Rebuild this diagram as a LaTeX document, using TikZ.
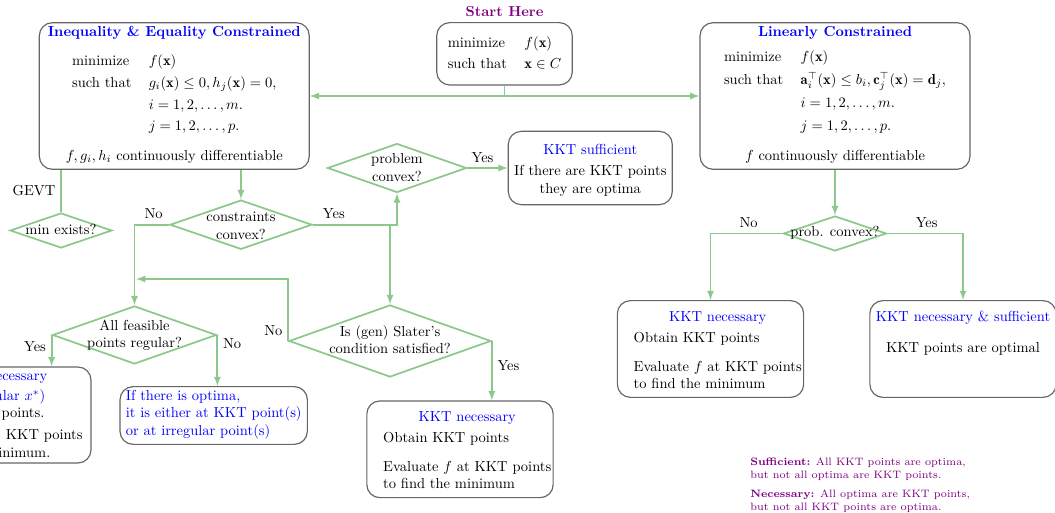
\documentclass[tikz,border=0pt]{standalone}
\usepackage{fontspec}
\usetikzlibrary{arrows,shapes.geometric}

\definecolor{flowgreen}{RGB}{140,200,140}
% put text in a node without giving it any size: shift right, raise
\newcommand{\boxin}[3]{\makebox[0pt]{\hspace*{#1}\hspace*{#1}\raisebox{#2}[0pt][0pt]{#3}}}

\tikzset{
  box/.style={draw=black!60, thick, rounded corners=9pt, inner sep=0pt},
  decision/.style={diamond, draw=flowgreen, very thick, inner sep=0pt},
  line/.style={draw=flowgreen, very thick},
  arr/.style={line, ->, >=latex},
  note/.style={align=left, font=\fontsize{7.4pt}{9pt}\selectfont, text=violet, inner sep=0pt}
}

\begin{document}
\begin{tikzpicture}[x=0.6897pt, y=-0.6897pt]
\useasboundingbox (0,0) rectangle (1055,513);

% problems
\node[box, minimum width=186.2pt, minimum height=101.1pt] (ineq) at (174.3,96) {\boxin{0pt}{41pt}{\begin{tabular}[t]{ll}
  \multicolumn{2}{c}{\makebox[0pt]{\bfseries\color{blue}Inequality \& Equality Constrained}}\\[8pt]
  minimize & $f(\mathbf{x})$\\[3pt]
  such that & $g_i(\mathbf{x})\le 0, h_j(\mathbf{x})=0,$\\[3pt]
  & $i=1,2,\ldots,m.$\\[3pt]
  & $j=1,2,\ldots,p.$\\[8.7pt]
  \multicolumn{2}{c}{\makebox[0pt]{$f,g_i,h_i$ continuously differentiable}}
\end{tabular}}};
\node[box, minimum width=93.5pt, minimum height=43pt,
  label={[text=violet, font=\bfseries]above:Start Here}] (start) at (504.5,53.8) {\boxin{0pt}{4.3pt}{\begin{tabular}[t]{ll}
  minimize & $f(\mathbf{x})$\\[2.5pt]
  such that & $\mathbf{x}\in C$
\end{tabular}}};
\node[box, minimum width=186.2pt, minimum height=101.1pt] (lincon) at (835,96) {\boxin{0pt}{41pt}{\begin{tabular}[t]{ll}
  \multicolumn{2}{c}{\makebox[0pt]{\bfseries\color{blue}Linearly Constrained}}\\[5.2pt]
  minimize & $f(\mathbf{x})$\\[3.9pt]
  such that & $\mathbf{a}_i^\top(\mathbf{x})\le b_i, \mathbf{c}_j^\top(\mathbf{x})=\mathbf{d}_j,$\\[3.9pt]
  & $i=1,2,\ldots,m.$\\[3.9pt]
  & $j=1,2,\ldots,p.$\\[8.7pt]
  \multicolumn{2}{c}{\makebox[0pt]{$f$ continuously differentiable}}
\end{tabular}}};

% questions
\node[decision, minimum width=95.9pt, minimum height=33.8pt] (probcvx) at (397,168) {\boxin{0pt}{3pt}{\begin{tabular}[t]{@{}c@{}}problem\\convex?\end{tabular}}};
\node[decision, minimum width=97.9pt, minimum height=34pt] (concvx) at (241,224.7) {\boxin{0pt}{2pt}{\begin{tabular}[t]{@{}c@{}}constraints\\convex?\end{tabular}}};
\node[decision, minimum width=70.3pt, minimum height=24.1pt] (minex) at (61,230.5) {\boxin{0pt}{-2.8pt}{min exists?}};
\node[decision, minimum width=113.1pt, minimum height=40pt] (regular) at (134.5,335) {\boxin{0pt}{3.4pt}{\begin{tabular}[t]{@{}c@{}}All feasible\\points regular?\end{tabular}}};
\node[decision, minimum width=139.3pt, minimum height=49.7pt] (slater) at (390,341) {\boxin{0pt}{3.2pt}{\begin{tabular}[t]{@{}c@{}}Is (gen) Slater's\\condition satisfied?\end{tabular}}};
\node[decision, minimum width=71pt, minimum height=24.1pt] (lincvx) at (835,233.5) {\boxin{0pt}{-2.1pt}{prob. convex?}};

% answers
\node[box, minimum width=113.1pt, minimum height=50.6pt] (kktsuff) at (590.3,168) {\boxin{0pt}{9.2pt}{\begin{tabular}[t]{@{}c@{}}
  \color{blue}KKT sufficient\\[2.5pt]
  If there are KKT points\\
  they are optima
\end{tabular}}};
\node[box, minimum width=133.1pt, minimum height=66.2pt] (nec-reg) at (-5.5,415) {\boxin{2.8pt}{23.8pt}{\begin{tabular}[t]{@{}l@{}}
  \multicolumn{1}{@{}c@{}}{\color{blue}KKT necessary}\\[1.8pt]
  \multicolumn{1}{@{}c@{}}{\color{blue}(at regular $x^*$)}\\
  Obtain KKT points.\\[3.2pt]
  Evaluate $f$ at KKT points\\
  to find the minimum.
\end{tabular}}};
\node[box, minimum width=129.2pt, minimum height=39.8pt] (irreg) at (213.7,415.5) {\boxin{0pt}{10.3pt}{\begin{tabular}[t]{@{}l@{}}
  \color{blue}If there is optima,\\
  \color{blue}it is either at KKT point(s)\\
  \color{blue}or at irregular point(s)
\end{tabular}}};
\node[box, minimum width=128.5pt, minimum height=66.7pt] (nec-slater) at (460,449.3) {\boxin{5pt}{19pt}{\begin{tabular}[t]{@{}l@{}}
  \multicolumn{1}{@{}c@{}}{\color{blue}KKT necessary}\\[2.2pt]
  Obtain KKT points\\[7.9pt]
  Evaluate $f$ at KKT points\\
  to find the minimum
\end{tabular}}};
\node[box, minimum width=128.5pt, minimum height=66.7pt] (nec-lin) at (710.5,349) {\boxin{5pt}{18.8pt}{\begin{tabular}[t]{@{}l@{}}
  \multicolumn{1}{@{}c@{}}{\color{blue}KKT necessary}\\[2.2pt]
  Obtain KKT points\\[7.9pt]
  Evaluate $f$ at KKT points\\
  to find the minimum
\end{tabular}}};
\node[box, minimum width=128.5pt, minimum height=66.7pt] (necsuff-lin) at (963,349) {\boxin{0pt}{19pt}{\begin{tabular}[t]{@{}c@{}}
  \color{blue}KKT necessary \& sufficient\\[9.4pt]
  KKT points are optimal
\end{tabular}}};

\node[note, anchor=north west] (notes) at (750,458) {\textbf{Sufficient:} All KKT points are optima,\\
  but not all optima are KKT points.\\[3.5pt]
  \textbf{Necessary:} All optima are KKT points,\\
  but not all KKT points are optima.};

\coordinate (join) at (136,279);

% connectors
\draw[arr] (start.south) |- (ineq.east);
\draw[arr] (start.south) |- (lincon.west);
\draw[line] (minex.north |- ineq.south) -- node[left] {GEVT} (minex.north);
\draw[arr] (concvx.north |- ineq.south) -- (concvx.north);
\draw[arr] (concvx.east) -| node[pos=0.125, above] {Yes} (probcvx.south);
\draw[arr] (slater.north |- concvx.east) -- (slater.north);
\draw[arr] (concvx.west) -| node[pos=0.225, above] {No} (regular.north);
\draw[arr] (probcvx.east) -- node[pos=0.375, above] {Yes} (kktsuff.west);
\draw[arr] (slater.west) |- node[pos=0.08, left] {No} (join);
\draw[arr] (slater.east) -- node[pos=0.42, right] {Yes} (slater.east |- nec-slater.north);
\draw[arr] (regular.west) -- node[pos=0.375, left] {Yes} (regular.west |- nec-reg.north);
\draw[arr] (regular.east) -- node[pos=0.17, right] {No} (regular.east |- irreg.north);
\draw[arr] (lincon.south) -- (lincvx.north);
\draw[arr] (lincvx.west) -| node[pos=0.236, above] {No} (nec-lin.north);
\draw[arr] (lincvx.east) -| node[pos=0.26, above] {Yes} (necsuff-lin.north);
\end{tikzpicture}
\end{document}
